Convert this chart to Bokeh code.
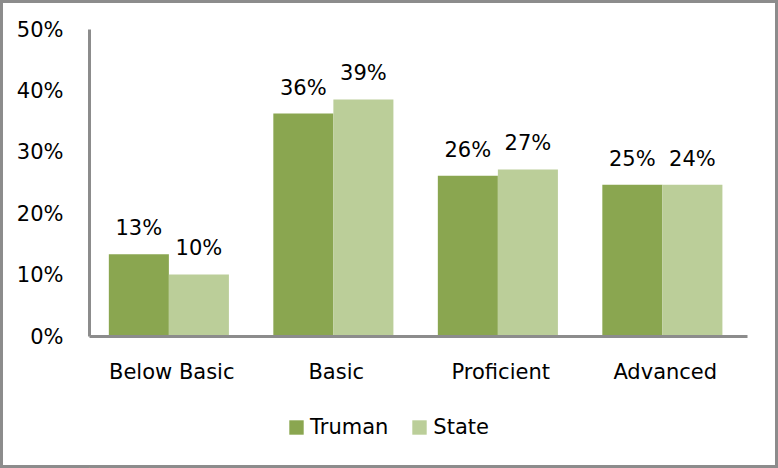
from bokeh.plotting import figure
from bokeh.layouts import column
from bokeh.models import ColumnDataSource, FactorRange, Range1d, FixedTicker, PrintfTickFormatter, Legend, LegendItem
from bokeh.transform import dodge
from bokeh.core.properties import value
from bokeh.embed import file_html
from bokeh.resources import INLINE

categories = ["Below Basic", "Basic", "Proficient", "Advanced"]
truman = [13.4, 36.3, 26.2, 24.7]
state = [10.1, 38.6, 27.2, 24.7]
truman_labels = ["13%", "36%", "26%", "25%"]
state_labels = ["10%", "39%", "27%", "24%"]
y_ticks = [0, 10, 20, 30, 40, 50]
series_names = ["Truman", "State"]

source = ColumnDataSource(dict(cat=categories, truman=truman, state=state,
                               tl=truman_labels, sl=state_labels))

FONT = "DejaVu Sans"
FS = "21px"
AXIS_COLOR = "#8c8c8c"
C_TRUMAN = "#8aa650"
C_STATE = "#bbce99"

W, H1, H2 = 778, 404, 64
p = figure(x_range=FactorRange(*categories, range_padding=0), y_range=Range1d(0, 50),
           width=W, height=H1, output_backend="svg", toolbar_location=None,
           min_border_left=89, min_border_right=W - 747, min_border_top=29,
           min_border_bottom=H1 - 336)
p.frame_width = 658
p.frame_height = 307
p.border_fill_alpha = 0
p.background_fill_color = "white"

r1 = p.vbar(x=dodge("cat", -0.2, range=p.x_range), top="truman", width=0.365, source=source,
            fill_color=C_TRUMAN, line_color=None)
r2 = p.vbar(x=dodge("cat", 0.165, range=p.x_range), top="state", width=0.365, source=source,
            fill_color=C_STATE, line_color=None)

p.text(x=dodge("cat", -0.2, range=p.x_range), y="truman", text="tl", source=source,
       text_align="center", text_baseline="alphabetic", y_offset=-26,
       text_font=value(FONT), text_font_size=FS, text_color="black")
p.text(x=dodge("cat", 0.165, range=p.x_range), y="state", text="sl", source=source,
       text_align="center", text_baseline="alphabetic", y_offset=-26,
       text_font=value(FONT), text_font_size=FS, text_color="black")

p.xgrid.visible = False
p.ygrid.visible = False
p.outline_line_color = None

for ax in (p.xaxis[0], p.yaxis[0]):
    ax.axis_line_color = AXIS_COLOR
    ax.axis_line_width = 3
    ax.major_tick_line_color = None
    ax.minor_tick_line_color = None
    ax.major_tick_out = 0
    ax.major_tick_in = 0
    ax.major_label_text_font = FONT
    ax.major_label_text_font_size = FS
    ax.major_label_text_color = "black"

p.yaxis[0].ticker = FixedTicker(ticks=y_ticks)
p.yaxis[0].formatter = PrintfTickFormatter(format="%d%%")
p.yaxis[0].major_label_standoff = 26
p.xaxis[0].major_label_standoff = 23

# legend strip below the chart
p2 = figure(x_range=Range1d(0, 658), y_range=Range1d(0, H2), width=W, height=H2,
            output_backend="svg", toolbar_location=None,
            x_axis_type=None, y_axis_type=None,
            min_border_left=0, min_border_right=0, min_border_top=0, min_border_bottom=0)
p2.outline_line_color = None
p2.border_fill_alpha = 0
p2.background_fill_alpha = 0
legend_src = ColumnDataSource(dict(x=[-1000], top=[1]))
d1 = p2.vbar(x="x", top="top", width=1, source=legend_src, fill_color=C_TRUMAN, line_color=None)
d2 = p2.vbar(x="x", top="top", width=1, source=legend_src, fill_color=C_STATE, line_color=None)

legend = Legend(items=[LegendItem(label=series_names[0], renderers=[d1], index=0),
                       LegendItem(label=series_names[1], renderers=[d2], index=0)],
                location=(198, 29), orientation="horizontal",
                glyph_width=18, glyph_height=18, label_standoff=5, spacing=22,
                padding=0, margin=0, border_line_color=None, background_fill_alpha=0,
                label_text_font=FONT, label_text_font_size=FS, label_text_color="black")
p2.add_layout(legend, "center")

layout = column(p, p2, spacing=0)
layout.styles = {"outline": "3px solid #8c8c8c", "outline-offset": "-3px", "background": "white"}

open("out.html", "w").write(file_html(layout, INLINE))
